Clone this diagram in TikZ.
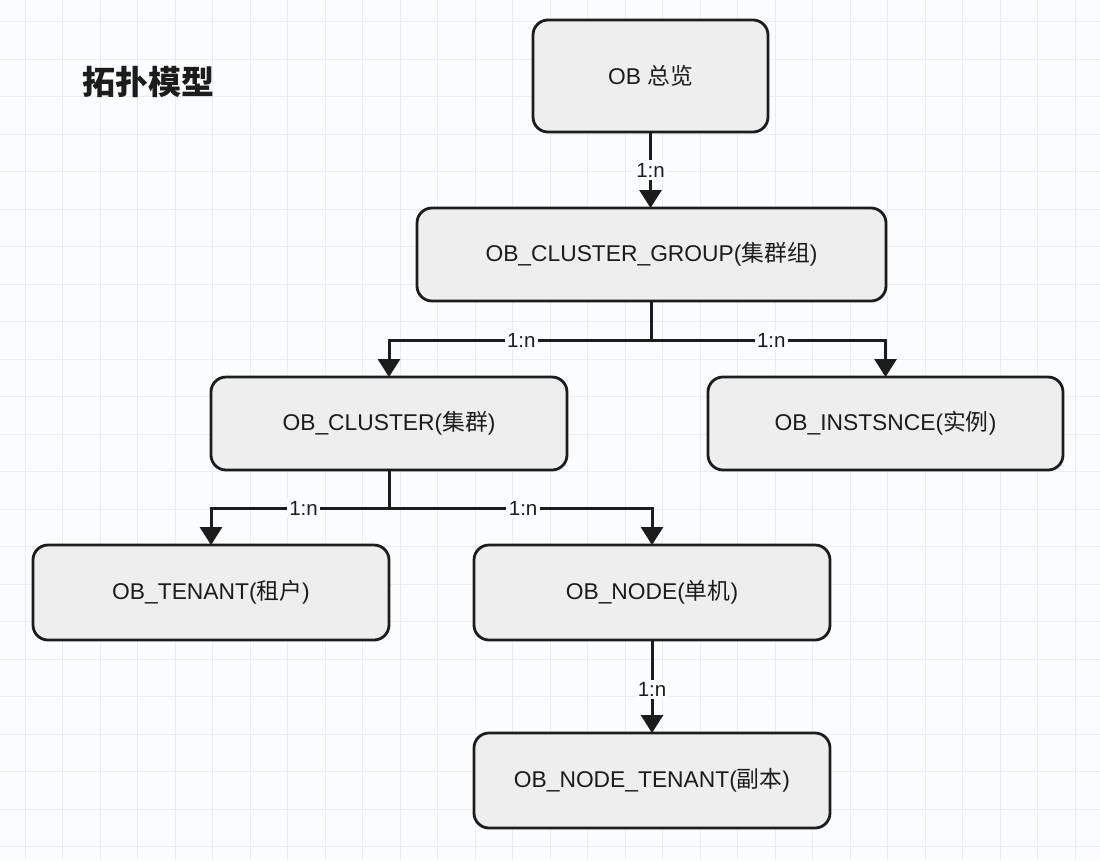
\documentclass[tikz,border=0pt]{standalone}
\usepackage{fontspec}
\setmainfont{Liberation Sans}
\newfontfamily\cjk{Noto Sans CJK SC}
\usetikzlibrary{arrows.meta}
\definecolor{bg}{HTML}{FBFCFD}
\definecolor{gridc}{HTML}{EAEDF0}
\definecolor{boxfill}{HTML}{EEEEEE}
\definecolor{ink}{HTML}{1C1C1C}
\tikzset{
  gridline/.style={draw=gridc, line width=1pt},
  box/.style={draw=ink, fill=boxfill, line width=2.8pt, rounded corners=15pt,
    outer sep=0pt, inner sep=0pt, text=ink,
    font=\fontsize{22.8}{27}\selectfont},
  conn/.style={draw=ink, line width=3pt,
    -{Triangle[width=22pt,length=18pt]}},
  lbl/.style={fill=bg, inner sep=2.5pt, text=ink,
    font=\fontsize{20.5}{24}\selectfont},
  titletext/.style={text=ink, font=\cjk\bfseries\fontsize{33}{37}\selectfont}
}
\begin{document}
\begin{tikzpicture}[x=1pt,y=-1pt]
\fill[bg] (0,0) rectangle (1100,860);
\useasboundingbox (0,0) rectangle (1100,860);
\foreach \i in {0,...,28} \draw[gridline] ({25+37.5*\i},0) -- ({25+37.5*\i},860);
\foreach \j in {0,...,22} \draw[gridline] (0,{21.5+37.5*\j}) -- (1100,{21.5+37.5*\j});

\node[titletext] (title) at (148,82) {拓扑模型};

\node[box, minimum width=235pt, minimum height=112pt] (ov) at (650.5,76) {OB {\cjk 总览}};
\node[box, minimum width=469pt, minimum height=93pt] (grp) at (651.5,254.5) {OB\_CLUSTER\_GROUP({\cjk 集群组})};
\node[box, minimum width=356pt, minimum height=93pt] (cl) at (389,423.5) {OB\_CLUSTER({\cjk 集群})};
\node[box, minimum width=355pt, minimum height=93pt] (inst) at (885.5,423.5) {OB\_INSTSNCE({\cjk 实例})};
\node[box, minimum width=356pt, minimum height=95pt] (ten) at (211,592.5) {OB\_TENANT({\cjk 租户})};
\node[box, minimum width=356pt, minimum height=95pt] (nd) at (652,592.5) {OB\_NODE({\cjk 单机})};
\node[box, minimum width=356pt, minimum height=95pt] (ndt) at (652,780.5) {OB\_NODE\_TENANT({\cjk 副本})};

\draw[conn] (ov.south) -- node[lbl]{1:n} (ov.south |- grp.north);
\draw[conn] (grp.south) -- ++(0,39) -| node[lbl, pos=0.248]{1:n} (cl.north);
\draw[conn] (grp.south) -- ++(0,39) -| node[lbl, pos=0.256]{1:n} (inst.north);
\draw[conn] (cl.south) -- ++(0,38) -| node[lbl, pos=0.24]{1:n} (ten.north);
\draw[conn] (cl.south) -- ++(0,38) -| node[lbl, pos=0.255]{1:n} (nd.north);
\draw[conn] (nd.south) -- node[lbl, pos=0.53]{1:n} (ndt.north);
\end{tikzpicture}
\end{document}
